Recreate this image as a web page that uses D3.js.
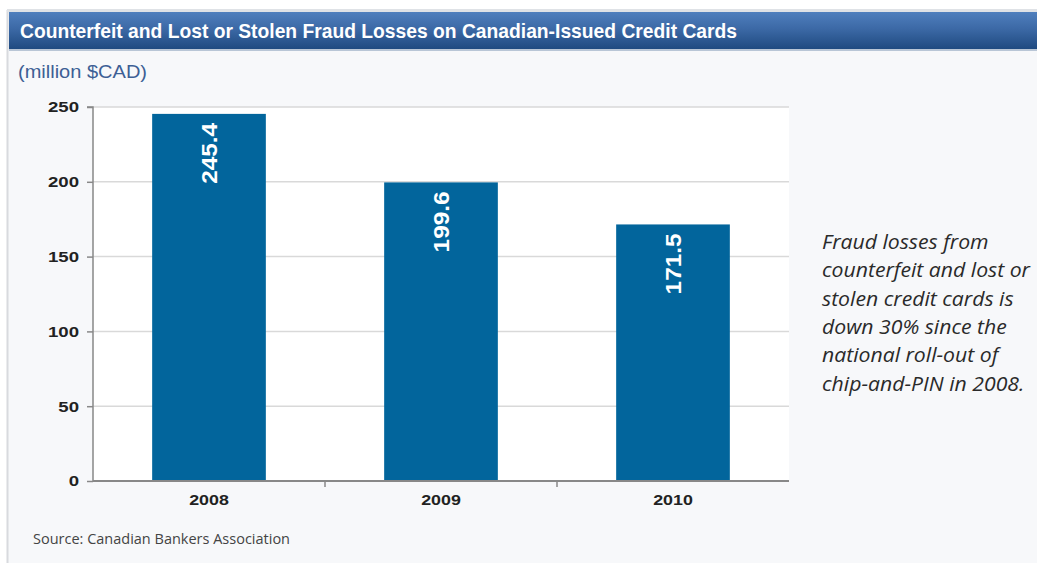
<!DOCTYPE html>
<html><head><meta charset="utf-8">
<script src="https://cdn.jsdelivr.net/npm/d3@7"></script>
<style>
html,body{margin:0;padding:0;background:#fff;}
svg{display:block;}
</style></head>
<body>
<svg id="c" width="1037" height="563"></svg>
<script>
const title = "Counterfeit and Lost or Stolen Fraud Losses on Canadian-Issued Credit Cards";
const unitLabel = "(million $CAD)";
const categories = ["2008", "2009", "2010"];
const values = [245.4, 199.6, 171.5];
const valueLabels = ["245.4", "199.6", "171.5"];
const yTicks = [0, 50, 100, 150, 200, 250];
const noteLines = ["Fraud losses from", "counterfeit and lost or", "stolen credit cards is", "down 30% since the", "national roll-out of", "chip-and-PIN in 2008."];
const source = "Source: Canadian Bankers Association";

const svg = d3.select("#c");
function stretch(sel, k) {
  sel.each(function(){ const w = this.getComputedTextLength(); d3.select(this).attr("textLength", w*k).attr("lengthAdjust","spacingAndGlyphs"); });
}
const defs = svg.append("defs");
const g1 = defs.append("linearGradient").attr("id","hdr").attr("x1",0).attr("y1",0).attr("x2",0).attr("y2",1);
g1.append("stop").attr("offset","0%").attr("stop-color","#4f7fbd");
g1.append("stop").attr("offset","45%").attr("stop-color","#3c69a6");
g1.append("stop").attr("offset","100%").attr("stop-color","#1f4a80");

// panel background
svg.append("rect").attr("x",7).attr("y",10).attr("width",1030).attr("height",553).attr("fill","#f7f8fa");
svg.append("line").attr("x1",7.5).attr("x2",7.5).attr("y1",10).attr("y2",563).attr("stroke","#d8dade").attr("stroke-width",2);
svg.append("rect").attr("x",7).attr("y",9).attr("width",1030).attr("height",3).attr("fill","#dfe2e6");
// header band
svg.append("rect").attr("x",9).attr("y",12).attr("width",1028).attr("height",37).attr("fill","url(#hdr)");
svg.append("rect").attr("x",9).attr("y",49).attr("width",1028).attr("height",2).attr("fill","#b9c6d6");
svg.append("text").attr("x",20).attr("y",38).text(title)
  .attr("fill","#fff").attr("font-family","'Liberation Sans',Arial,sans-serif")
  .attr("font-weight","bold").attr("font-size",21).attr("textLength",717).attr("lengthAdjust","spacingAndGlyphs");

const unit = svg.append("text").attr("x",18).attr("y",78).text(unitLabel)
  .attr("fill","#3d5f95").attr("font-family","'Liberation Sans',Arial,sans-serif").attr("font-size",18);
unit.attr("textLength",129).attr("lengthAdjust","spacingAndGlyphs");

const m = {left:93, right:789, top:107, bottom:481};
const x = d3.scaleBand().domain(categories).range([m.left, m.right]).paddingInner(0.51).paddingOuter(0.255);
const y = d3.scaleLinear().domain([0,250]).range([m.bottom, m.top]);

// plot area
svg.append("rect").attr("x",m.left).attr("y",m.top).attr("width",m.right-m.left).attr("height",m.bottom-m.top).attr("fill","#fff");
// gridlines
svg.append("g").selectAll("line").data(yTicks.filter(d=>d>0)).join("line")
  .attr("x1",m.left).attr("x2",m.right).attr("y1",d=>y(d)).attr("y2",d=>y(d))
  .attr("stroke","#d9d9d9").attr("stroke-width",1.5);

// bars
svg.append("g").selectAll("rect").data(values).join("rect")
  .attr("x",(d,i)=>x(categories[i])).attr("width",x.bandwidth())
  .attr("y",d=>y(d)).attr("height",d=>y(0)-y(d)).attr("fill","#02659c");

// value labels
svg.append("g").selectAll("text").data(values).join("text")
  .attr("transform",(d,i)=>`translate(${x(categories[i])+x.bandwidth()/2+8},${y(d)+9}) rotate(-90)`)
  .attr("text-anchor","end").attr("fill","#fff").attr("font-weight","bold")
  .attr("font-family","'Liberation Sans',Arial,sans-serif").attr("font-size",22)
  .attr("textLength",61).attr("lengthAdjust","spacingAndGlyphs")
  .text((d,i)=>valueLabels[i]);

// y axis
const ya = svg.append("g").attr("transform",`translate(${m.left},0)`)
  .call(d3.axisLeft(y).tickValues(yTicks).tickSize(6).tickPadding(8));
ya.select(".domain").attr("stroke","#888").attr("stroke-width",1.5).attr("d",`M-6,${m.top}H0V${m.bottom}`);
ya.selectAll(".tick line").attr("stroke","#888").attr("stroke-width",1.5);
ya.selectAll(".tick text").attr("fill","#222").attr("font-weight","bold")
  .attr("font-family","'Liberation Sans',Arial,sans-serif").attr("font-size",15.5).call(stretch, 1.2);

// x axis
const xa = svg.append("g").attr("transform",`translate(0,${m.bottom})`)
  .call(d3.axisBottom(x).tickSize(0).tickPadding(13));
xa.select(".domain").attr("stroke","#888").attr("stroke-width",2).attr("d",`M${m.left},0H${m.right}`);
xa.selectAll(".tick text").attr("fill","#222").attr("font-weight","bold")
  .attr("font-family","'Liberation Sans',Arial,sans-serif").attr("font-size",15.5).call(stretch, 1.15);
// category separators
const step = x.step();
svg.append("g").selectAll("line").data(categories.slice(1)).join("line")
  .attr("x1",d=>x(d)-(step-x.bandwidth())/2).attr("x2",d=>x(d)-(step-x.bandwidth())/2)
  .attr("y1",m.bottom).attr("y2",m.bottom+6).attr("stroke","#888").attr("stroke-width",1.5);

// note
const notes = svg.append("g").selectAll("text").data(noteLines).join("text")
  .attr("x",822).attr("y",(d,i)=>249+i*28.3).text(d=>d)
  .attr("fill","#2a2a2a").attr("font-style","italic")
  .attr("font-family","'Open Sans','Noto Sans',sans-serif").attr("font-size",19.5);
stretch(notes, 208 / notes.filter((d,i)=>i===1).node().getComputedTextLength());

const src = svg.append("text").attr("x",33).attr("y",544).text(source)
  .attr("fill","#444").attr("font-family","'Open Sans','Noto Sans',sans-serif").attr("font-size",14.5);
src.attr("textLength",257).attr("lengthAdjust","spacingAndGlyphs");
</script>
</body></html>
